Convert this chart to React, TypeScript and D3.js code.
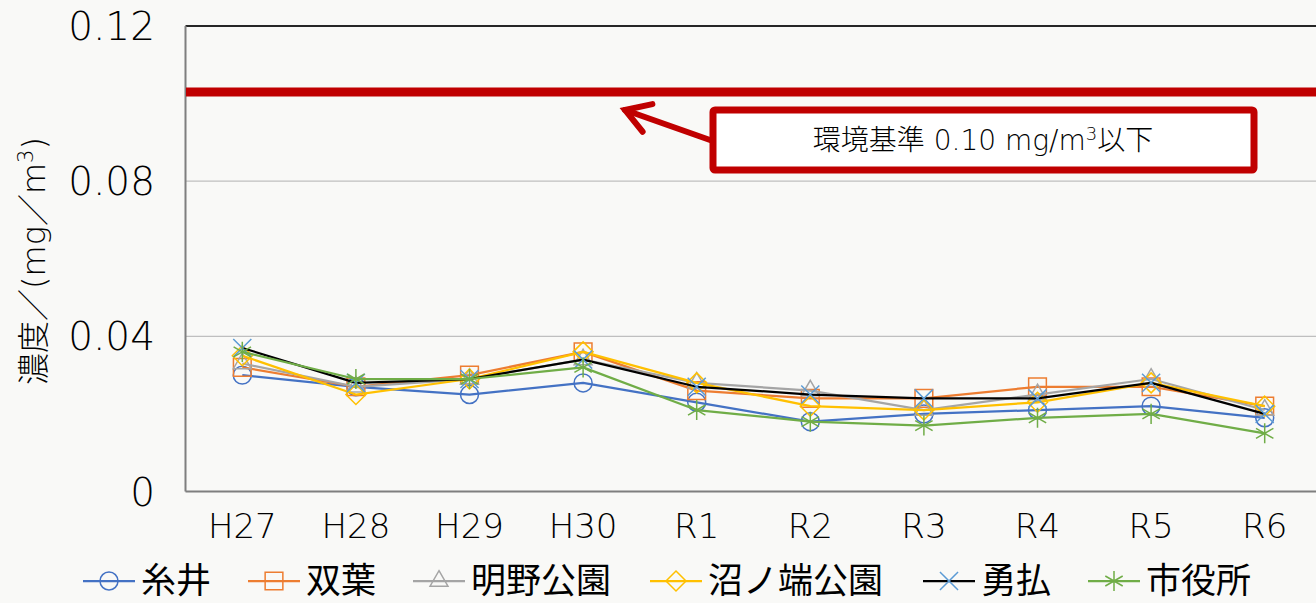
import React from "react";
import * as d3 from "d3";

const years = ["H27", "H28", "H29", "H30", "R1", "R2", "R3", "R4", "R5", "R6"];
const itoi = [0.030, 0.027, 0.025, 0.028, 0.023, 0.018, 0.020, 0.021, 0.022, 0.019];
const futaba = [0.032, 0.027, 0.030, 0.036, 0.026, 0.024, 0.024, 0.027, 0.027, 0.022];
const akenoPark = [0.033, 0.027, 0.029, 0.034, 0.028, 0.026, 0.021, 0.025, 0.029, 0.021];
const numanohataPark = [0.035, 0.025, 0.029, 0.036, 0.028, 0.022, 0.021, 0.023, 0.028, 0.022];
const yufutsu = [0.037, 0.028, 0.029, 0.034, 0.027, 0.025, 0.024, 0.024, 0.028, 0.020];
const cityHall = [0.036, 0.029, 0.029, 0.032, 0.021, 0.018, 0.017, 0.019, 0.020, 0.015];
const yTicks = [0, 0.04, 0.08, 0.12];
const yTickLabels = ["0", "0.04", "0.08", "0.12"];
const limitValue = 0.103; // drawn a little above 0.10 in the source

const series = [
  { name: "糸井", values: itoi, line: "#4472C4", mark: "#4472C4", symbol: d3.symbolCircle, size: 254 },
  { name: "双葉", values: futaba, line: "#ED7D31", mark: "#ED7D31", symbol: d3.symbolSquare2, size: 400 },
  { name: "明野公園", values: akenoPark, line: "#A5A5A5", mark: "#A5A5A5", symbol: d3.symbolTriangle2, size: 230 },
  { name: "沼ノ端公園", values: numanohataPark, line: "#FFC000", mark: "#FFC000", symbol: d3.symbolDiamond2, size: 255 },
  { name: "勇払", values: yufutsu, line: "#000000", mark: "#5B9BD5", symbol: d3.symbolTimes, size: 215 },
  { name: "市役所", values: cityHall, line: "#70AD47", mark: "#70AD47", symbol: d3.symbolAsterisk, size: 285 },
];

const W = 1316, H = 603;
const font = "'DejaVu Sans', 'Noto Sans CJK JP', sans-serif";
const red = "#C00000";

export default function App() {
  const x = d3.scalePoint().domain(years).range([185.5, 1321.5]).padding(0.5);
  const y = d3.scaleLinear().domain([0, 0.12]).range([491.5, 26]);
  const line = d3.line<number>()
    .x((_, i) => x(years[i]) as number)
    .y(d => y(d));

  // legend layout
  let lx = 83;
  const legend = series.map(s => {
    const item = { ...s, x0: lx };
    lx += 58 + s.name.length * 36 + 35;
    return item;
  });

  // annotation arrow
  const tip = [625, 110], tail = [710, 140];
  const ang = Math.atan2(tail[1] - tip[1], tail[0] - tip[0]);
  const hl = 28, ha = 0.55;
  const w1 = [tip[0] + hl * Math.cos(ang - ha), tip[1] + hl * Math.sin(ang - ha)];
  const w2 = [tip[0] + hl * Math.cos(ang + ha), tip[1] + hl * Math.sin(ang + ha)];

  return (
    <svg width={W} height={H} style={{ position: "absolute", left: 0, top: 0, fontFamily: font }}>
      <rect width={W} height={H} fill="#F9F9F7" />

      {/* grid */}
      {yTicks.slice(1, 3).map(t => (
        <line key={t} x1={185.5} x2={W} y1={y(t)} y2={y(t)} stroke="#BFBFBF" strokeWidth={1.2} />
      ))}
      <line x1={185.5} x2={W} y1={y(0.12)} y2={y(0.12)} stroke="#262626" strokeWidth={2} />
      <line x1={185.5} x2={185.5} y1={y(0.12)} y2={y(0)} stroke="#7F7F7F" strokeWidth={2} />
      <line x1={185.5} x2={W} y1={y(0)} y2={y(0)} stroke="#7F7F7F" strokeWidth={2} />

      {/* y ticks */}
      {yTicks.map((t, i) => (
        <text key={t} x={155} y={y(t)} dy="0.36em" textAnchor="end" fontSize={39} fontWeight={200} fill="#000">
          {yTickLabels[i]}
        </text>
      ))}
      <text transform="translate(45,261) rotate(-90)" textAnchor="middle" fontSize={32} fontWeight={200} fill="#000">
        濃度／(mg／m<tspan dy={-12} fontSize={21}>3</tspan><tspan dy={12}>)</tspan>
      </text>

      {/* x labels */}
      {years.map(c => (
        <text key={c} x={x(c)} y={538} textAnchor="middle" fontSize={34} fontWeight={200} fill="#000">{c}</text>
      ))}

      {/* standard line */}
      <line x1={186} x2={W} y1={y(limitValue)} y2={y(limitValue)} stroke={red} strokeWidth={9} />

      {/* series */}
      {series.map(s => (
        <g key={s.name}>
          <path d={line(s.values) as string} fill="none" stroke={s.line} strokeWidth={2.25} strokeLinejoin="round" />
          {s.values.map((v, i) => (
            <path key={i} transform={`translate(${x(years[i])},${y(v)})`}
              d={d3.symbol(s.symbol, s.size)() as string} fill="none" stroke={s.mark} strokeWidth={1.5} />
          ))}
        </g>
      ))}

      {/* annotation */}
      <polyline points={`${tail[0]},${tail[1]} ${tip[0]},${tip[1]}`} stroke={red} strokeWidth={6} strokeLinecap="round" fill="none" />
      <polyline points={`${w1[0]},${w1[1]} ${tip[0]},${tip[1]} ${w2[0]},${w2[1]}`} stroke={red} strokeWidth={6}
        strokeLinecap="round" strokeLinejoin="miter" fill="none" />
      <rect x={713} y={110} width={541} height={60} fill="#fff" stroke={red} strokeWidth={7} rx={2} />
      <text x={983} y={140} dy="0.36em" textAnchor="middle" fontSize={28} fontWeight={200} fill="#000">
        環境基準 0.10 mg/m<tspan dy={-10} fontSize={18}>3</tspan><tspan dy={10}>以下</tspan>
      </text>

      {/* legend */}
      {legend.map(s => (
        <g key={s.name}>
          <line x1={s.x0} x2={s.x0 + 52} y1={581} y2={581} stroke={s.line} strokeWidth={2.25} />
          <path transform={`translate(${s.x0 + 26},581)`} d={d3.symbol(s.symbol, s.size)() as string}
            fill="none" stroke={s.mark} strokeWidth={1.5} />
          <text x={s.x0 + 58} y={581} dy="0.35em" fontSize={35} fontFamily="'Noto Sans CJK JP', sans-serif" fill="#000">{s.name}</text>
        </g>
      ))}
    </svg>
  );
}
